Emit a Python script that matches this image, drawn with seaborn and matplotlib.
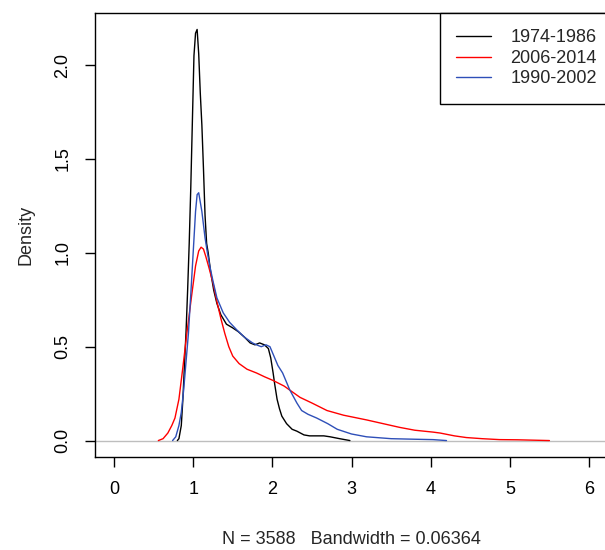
import numpy as np
import pandas as pd
import seaborn as sns
import matplotlib
matplotlib.use("Agg")
import matplotlib.pyplot as plt

# density estimates (x, density)
x_7486 = [0.80, 0.82, 0.85, 0.87, 0.89, 0.91, 0.93, 0.95, 0.97, 0.99, 1.01, 1.03, 1.05, 1.07,
          1.09, 1.11, 1.13, 1.15, 1.17, 1.19, 1.22, 1.26, 1.30, 1.35, 1.42, 1.50, 1.57, 1.65,
          1.72, 1.78, 1.84, 1.90, 1.95, 1.98, 2.01, 2.03, 2.06, 2.09, 2.12, 2.18, 2.25, 2.31,
          2.40, 2.47, 2.55, 2.65, 2.73, 2.85, 2.98]
y_7486 = [0.0, 0.01, 0.08, 0.22, 0.40, 0.58, 0.80, 1.05, 1.35, 1.70, 2.05, 2.17, 2.19, 2.06,
          1.85, 1.68, 1.45, 1.20, 1.05, 1.00, 0.90, 0.80, 0.73, 0.67, 0.62, 0.60, 0.58, 0.55,
          0.52, 0.51, 0.52, 0.51, 0.49, 0.44, 0.36, 0.30, 0.22, 0.17, 0.13, 0.09, 0.06, 0.05,
          0.03, 0.025, 0.025, 0.025, 0.02, 0.01, 0.0]

x_0614 = [0.56, 0.62, 0.68, 0.73, 0.77, 0.82, 0.87, 0.92, 0.98, 1.03, 1.07, 1.10, 1.13, 1.16,
          1.20, 1.25, 1.30, 1.35, 1.40, 1.45, 1.50, 1.58, 1.68, 1.80, 1.90, 2.01, 2.15, 2.35,
          2.50, 2.69, 2.90, 3.19, 3.40, 3.61, 3.80, 4.03, 4.12, 4.30, 4.45, 4.65, 4.87, 5.10,
          5.30, 5.50]
y_0614 = [0.0, 0.01, 0.04, 0.08, 0.12, 0.22, 0.39, 0.57, 0.77, 0.93, 1.01, 1.03, 1.02, 0.98,
          0.92, 0.84, 0.74, 0.65, 0.57, 0.50, 0.45, 0.41, 0.38, 0.36, 0.34, 0.32, 0.29, 0.23,
          0.20, 0.16, 0.135, 0.11, 0.09, 0.07, 0.055, 0.045, 0.04, 0.025, 0.016, 0.01, 0.005,
          0.004, 0.002, 0.0]

x_9002 = [0.74, 0.78, 0.82, 0.85, 0.88, 0.91, 0.94, 0.97, 1.00, 1.03, 1.05, 1.07, 1.09, 1.11,
          1.13, 1.15, 1.18, 1.21, 1.25, 1.30, 1.38, 1.46, 1.55, 1.65, 1.75, 1.80, 1.86, 1.92,
          1.97, 2.02, 2.07, 2.13, 2.22, 2.31, 2.37, 2.45, 2.56, 2.70, 2.82, 3.00, 3.19, 3.50,
          3.80, 4.03, 4.20]
y_9002 = [0.0, 0.02, 0.08, 0.15, 0.27, 0.42, 0.57, 0.78, 1.00, 1.22, 1.31, 1.32, 1.27, 1.22,
          1.15, 1.08, 1.00, 0.93, 0.85, 0.76, 0.68, 0.63, 0.59, 0.55, 0.52, 0.51, 0.50, 0.51,
          0.50, 0.45, 0.40, 0.36, 0.27, 0.20, 0.16, 0.14, 0.12, 0.09, 0.06, 0.035, 0.02, 0.01,
          0.007, 0.005, 0.0]

periods = ["1974-1986", "2006-2014", "1990-2002"]
colors = ["black", "#FF0000", "#2E4FB8"]

df = pd.concat([
    pd.DataFrame({"x": x_7486, "density": y_7486, "period": periods[0]}),
    pd.DataFrame({"x": x_0614, "density": y_0614, "period": periods[1]}),
    pd.DataFrame({"x": x_9002, "density": y_9002, "period": periods[2]}),
], ignore_index=True)

sns.set_theme(style="white")
plt.rcParams["font.family"] = ["Liberation Sans", "DejaVu Sans"]

fig = plt.figure(figsize=(6.05, 5.5), dpi=100)
ax = fig.add_axes([95 / 605, 1 - 457 / 550, 513 / 605, 444 / 550])

ax.axhline(0, color="#BEBEBE", lw=1, zorder=1)
sns.lineplot(data=df, x="x", y="density", hue="period", hue_order=periods,
             palette=dict(zip(periods, colors)), sort=False, estimator=None,
             lw=1, ax=ax, legend=False)

ax.set_xlim(-0.24, 6.24)
ax.set_ylim(-0.0876, 2.2776)
ax.set_xticks(range(0, 7))
ax.set_yticks([0.0, 0.5, 1.0, 1.5, 2.0])
ax.set_yticklabels(["0.0", "0.5", "1.0", "1.5", "2.0"], rotation=90, va="center")
ax.tick_params(axis="both", direction="out", length=7, width=1, color="black",
               labelsize=13, labelcolor="black", bottom=True, left=True)
ax.tick_params(axis="x", pad=10)
ax.tick_params(axis="y", pad=10)
for s in ax.spines.values():
    s.set_color("black")
    s.set_linewidth(1)

ax.set_xlabel("N = 3588   Bandwidth = 0.06364", fontsize=13, labelpad=24)
ax.set_ylabel("Density", fontsize=13, labelpad=14)

handles = [plt.Line2D([], [], color=c, lw=1) for c in colors]
leg = fig.legend(handles, periods, loc="upper left",
                 bbox_to_anchor=(440 / 605, 1 - 13 / 550), fontsize=13,
                 frameon=True, fancybox=False, framealpha=1, edgecolor="black",
                 handlelength=1.9, handletextpad=1.1, labelspacing=0.2,
                 borderpad=0.9, borderaxespad=0)
leg.get_frame().set_linewidth(1)

fig.savefig("out.png", dpi=100)
